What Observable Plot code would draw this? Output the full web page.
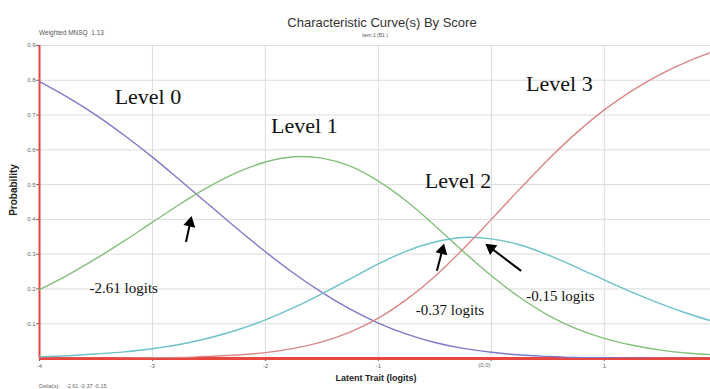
<!DOCTYPE html>
<html><head><meta charset="utf-8">
<script src="https://cdn.jsdelivr.net/npm/d3@7"></script>
<script src="https://cdn.jsdelivr.net/npm/@observablehq/plot@0.6"></script>
<style>
body{margin:0;background:#fff}
#chart svg{display:block}
</style>
</head><body><div id="chart"></div>
<script>
// ---- data ----
const theta = [-4,-3.75,-3.5,-3.25,-3,-2.75,-2.5,-2.25,-2,-1.75,-1.5,-1.25,-1,-0.75,-0.5,-0.25,0,0.25,0.5,0.75,1,1.25,1.5,1.75,2];
const level0 = [0.796,0.751,0.700,0.642,0.579,0.511,0.442,0.373,0.307,0.245,0.190,0.142,0.102,0.070,0.046,0.029,0.018,0.010,0.006,0.003,0.002,0.001,0.000,0.000,0.000];
const level1 = [0.198,0.240,0.287,0.338,0.392,0.445,0.494,0.535,0.565,0.580,0.576,0.553,0.510,0.452,0.382,0.308,0.238,0.176,0.125,0.086,0.058,0.038,0.024,0.015,0.010];
const level2 = [0.005,0.008,0.013,0.019,0.028,0.041,0.059,0.082,0.111,0.146,0.186,0.229,0.272,0.309,0.335,0.348,0.344,0.327,0.298,0.263,0.226,0.190,0.157,0.128,0.103];
const level3 = [0.000,0.000,0.000,0.001,0.002,0.003,0.006,0.010,0.017,0.029,0.048,0.076,0.116,0.170,0.236,0.315,0.400,0.487,0.571,0.648,0.715,0.771,0.818,0.856,0.887];
const seriesNames = ["Level 0","Level 1","Level 2","Level 3"];
const seriesColors = ["#7f78c9","#82c07a","#6dc1c8","#d98686"];

const yTicks = [0.1,0.2,0.3,0.4,0.5,0.6,0.7,0.8,0.9];
const xTicks = [-4,-3,-2,-1,0,1];
const xTickLabels = ["-4","-3","-2","-1","(0,0)","1"];

// annotations (data coordinates)
const levelLabelX = [-3.04,-1.655,-0.295,0.602];
const levelLabelY = [0.752,0.668,0.510,0.790];
const logitLabels = ["-2.61 logits","-0.37 logits","-0.15 logits"];
const logitLabelX = [-3.254,-0.366,0.611];
const logitLabelY = [0.203,0.1375,0.178];
const arrowX1 = [-2.703,-0.482,0.264];
const arrowY1 = [0.335,0.252,0.252];
const arrowX2 = [-2.655,-0.420,-0.050];
const arrowY2 = [0.408,0.329,0.329];

const deltas = ["-2.61","-0.37","-0.15"];
const mnsq = "1.13";

// ---- layout ----
const W = 710, H = 389, mL = 39, mR = 0, mT = 45, mB = 31;
const xDom = [-4, 1.94], yDom = [0, 0.9];
const kx = (W - mL - mR) / (xDom[1] - xDom[0]);
const ky = (H - mT - mB) / (yDom[1] - yDom[0]);

const rows = [];
[level0, level1, level2, level3].forEach((vals, i) => {
  vals.forEach((v, j) => rows.push({theta: theta[j], p: v, level: seriesNames[i]}));
});

// arrow geometry: shaft + filled head
const arrows = arrowX1.map((x1, i) => {
  const y1 = arrowY1[i], x2 = arrowX2[i], y2 = arrowY2[i];
  const dxp = (x2 - x1) * kx, dyp = -(y2 - y1) * ky; // screen coords
  const len = Math.hypot(dxp, dyp);
  const ux = dxp / len, uy = dyp / len;
  const back = 6.5;
  return {
    x1, y1,
    x2: x2 - ux * (back + 1) / kx, y2: y2 + uy * (back + 1) / ky,
    hx: x2 - ux * back / kx, hy: y2 + uy * back / ky,
    rot: Math.atan2(ux, -uy) * 180 / Math.PI
  };
});

const chart = Plot.plot({
  width: W, height: H,
  marginLeft: mL, marginRight: mR, marginTop: mT, marginBottom: mB,
  style: {background: "#fff", fontFamily: "Liberation Sans, Arial, sans-serif"},
  x: {domain: xDom},
  y: {domain: yDom},
  color: {domain: seriesNames, range: seriesColors},
  marks: [
    Plot.gridY(yTicks, {stroke: "#dcdcdc", strokeOpacity: 1}),
    Plot.gridX([-3,-2,-1,0,1], {stroke: "#dcdcdc", strokeOpacity: 1}),
    Plot.axisY(yTicks, {tickSize: 3, tickPadding: 1, fontSize: 6, color: "#666", label: null, tickFormat: d3.format(".1f")}),
    Plot.axisX(xTicks, {tickSize: 3, tickPadding: 2, fontSize: 6, color: "#666", label: null,
      tickFormat: d => d === 0 ? "" : xTickLabels[xTicks.indexOf(d)]}),
    Plot.text([0], {x: d => d, text: d => xTickLabels[xTicks.indexOf(d)], frameAnchor: "bottom", dy: 8, dx: -7, fontSize: 6, fill: "#666"}),
    Plot.ruleX([xDom[0]], {stroke: "#e8453f", strokeWidth: 2}),
    Plot.ruleY([0], {stroke: "#e8453f", strokeWidth: 3}),
    Plot.line(rows, {x: "theta", y: "p", z: "level", stroke: "level", strokeWidth: 1.4, curve: "catmull-rom", clip: true}),
    Plot.text(seriesNames, {x: (d, i) => levelLabelX[i], y: (d, i) => levelLabelY[i], text: d => d,
      fontFamily: "Liberation Serif, Times New Roman, serif", fontSize: 22, fill: "#111"}),
    Plot.text(logitLabels, {x: (d, i) => logitLabelX[i], y: (d, i) => logitLabelY[i], text: d => d,
      fontFamily: "Liberation Serif, Times New Roman, serif", fontSize: 15, fill: "#111"}),
    Plot.link(arrows, {x1: "x1", y1: "y1", x2: "x2", y2: "y2", stroke: "#000", strokeWidth: 2}),
    Plot.dot(arrows, {x: "hx", y: "hy", symbol: "triangle", r: 4.5, fill: "#000", rotate: "rot"})
  ]
});

const svg = d3.select(chart);
svg.append("text").attr("x", 382).attr("y", 27).attr("text-anchor", "middle")
  .style("font", "13px 'Liberation Sans', Arial, sans-serif").attr("fill", "#333")
  .text("Characteristic Curve(s) By Score");
svg.append("text").attr("x", 375).attr("y", 37).attr("text-anchor", "middle")
  .style("font", "5px 'Liberation Sans', Arial, sans-serif").attr("fill", "#555")
  .text("item:1 (B1 )");
svg.append("text").attr("x", 39).attr("y", 35).attr("text-anchor", "start").style("white-space", "pre")
  .style("font", "6.5px 'Liberation Sans', Arial, sans-serif").attr("fill", "#555")
  .text("Weighted MNSQ  " + mnsq);
svg.append("text").attr("transform", "translate(17,190) rotate(-90)").attr("text-anchor", "middle")
  .style("font", "bold 10px 'Liberation Sans', Arial, sans-serif").attr("fill", "#222")
  .text("Probability");
svg.append("text").attr("x", 376).attr("y", 381).attr("text-anchor", "middle")
  .style("font", "bold 9px 'Liberation Sans', Arial, sans-serif").attr("fill", "#222")
  .text("Latent Trait (logits)");
svg.append("text").attr("x", 39).attr("y", 388).attr("text-anchor", "start").style("white-space", "pre")
  .style("font", "5.5px 'Liberation Sans', Arial, sans-serif").attr("fill", "#666")
  .text("Delta(s):    " + deltas.join(" "));

document.getElementById("chart").appendChild(chart);
</script>
</body></html>
